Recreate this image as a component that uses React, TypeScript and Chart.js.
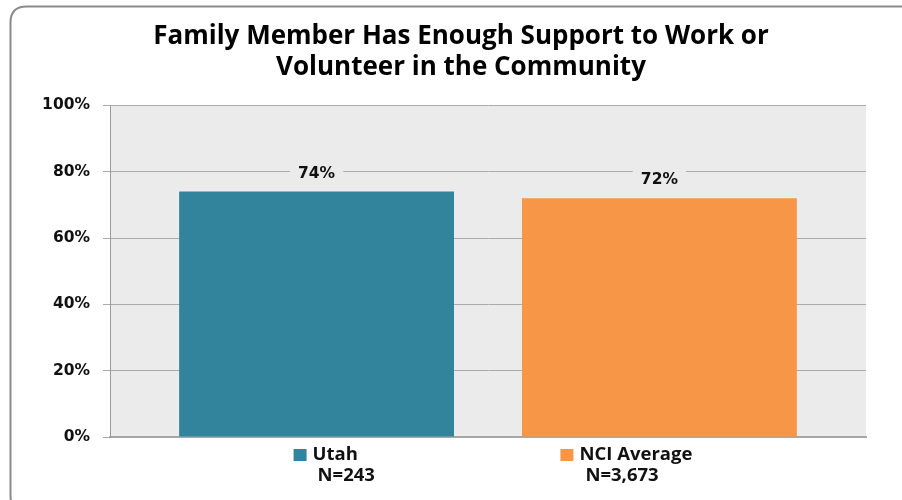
import React, { useEffect, useRef } from "react";
import { Chart, registerables } from "chart.js";

Chart.register(...registerables);

const titleLines = ["Family Member Has Enough Support to Work or", "Volunteer in the Community"];
const categories = ["Utah", "NCI Average"];
const sampleSizes = ["N=243", "N=3,673"];
const values = [74, 72];
const barColors = ["#31849B", "#F79646"];
const yMin = 0;
const yMax = 100;
const yStep = 20;

const PLOT_BG = "#EBEBEB";
const LABEL_FONT = "'DejaVu Sans', sans-serif";
const KEY_FONT = "'Open Sans', sans-serif";
// horizontal placement of each category key relative to its bar center
const keyOffsets = [-23, -99];
const nLineIndent = [5, 6];

const decorPlugin = {
  id: "decor",
  beforeDraw(chart: any) {
    const { ctx, chartArea } = chart;
    ctx.save();
    ctx.fillStyle = "#FFFFFF";
    ctx.fillRect(0, 0, chart.width, chart.height);
    ctx.fillStyle = PLOT_BG;
    ctx.fillRect(chartArea.left, chartArea.top, chartArea.right - chartArea.left, chartArea.bottom - chartArea.top);
    // rounded outer frame
    const x = 10.5, y = 6.5, w = 910, h = 505, r = 16;
    ctx.beginPath();
    ctx.moveTo(x + r, y);
    ctx.lineTo(x + w - r, y);
    ctx.quadraticCurveTo(x + w, y, x + w, y + r);
    ctx.lineTo(x + w, y + h - r);
    ctx.quadraticCurveTo(x + w, y + h, x + w - r, y + h);
    ctx.lineTo(x + r, y + h);
    ctx.quadraticCurveTo(x, y + h, x, y + h - r);
    ctx.lineTo(x, y + r);
    ctx.quadraticCurveTo(x, y, x + r, y);
    ctx.closePath();
    ctx.strokeStyle = "#8A8A8A";
    ctx.lineWidth = 2;
    ctx.stroke();
    ctx.restore();
  },
  afterDatasetsDraw(chart: any) {
    const { ctx } = chart;
    ctx.save();
    chart.data.datasets.forEach((ds: any, i: number) => {
      const meta = chart.getDatasetMeta(i);
      const bar = meta.data[0];
      if (!bar) return;
      const cx = bar.x;
      // value label with plot-coloured backing box
      const txt = ds.data[0] + "%";
      ctx.font = "bold 15.5px " + LABEL_FONT;
      const tw = ctx.measureText(txt).width;
      const ly = bar.y - 18;
      ctx.fillStyle = PLOT_BG;
      ctx.fillRect(cx - tw / 2 - 8, ly - 10, tw + 16, 20);
      ctx.fillStyle = "#111111";
      ctx.textAlign = "center";
      ctx.textBaseline = "middle";
      ctx.fillText(txt, cx, ly);

      // category key under the axis
      const kx = cx + keyOffsets[i];
      const baseY = chart.chartArea.bottom;
      ctx.fillStyle = barColors[i];
      ctx.fillRect(kx, baseY + 12, 13, 12);
      ctx.fillStyle = "#111111";
      ctx.textAlign = "left";
      ctx.font = "bold 18.5px " + KEY_FONT;
      ctx.fillText(categories[i], kx + 19, baseY + 18);
      ctx.fillText(sampleSizes[i], kx + 19 + nLineIndent[i], baseY + 39);
    });
    ctx.restore();
  },
};

export default function App() {
  const ref = useRef<HTMLCanvasElement | null>(null);
  useEffect(() => {
    if (!ref.current) return;
    const chart = new Chart(ref.current, {
      type: "bar",
      data: {
        labels: [""],
        datasets: categories.map((c, i) => ({
          label: c,
          data: [values[i]],
          backgroundColor: barColors[i],
          borderWidth: 0,
          categoryPercentage: 0.907,
          barPercentage: 0.8017,
        })),
      },
      options: {
        responsive: false,
        animation: false,
        layout: { padding: { left: 20, right: 0, top: 0, bottom: 0 } },
        plugins: {
          legend: { display: false },
          tooltip: { enabled: false },
          title: {
            display: true,
            text: titleLines,
            color: "#000000",
            font: { family: "'Open Sans', sans-serif", size: 26, weight: "bold", lineHeight: 1.2 },
            padding: { top: 21, bottom: 22 },
          },
        },
        scales: {
          x: {
            grid: { display: false },
            ticks: { display: false },
            border: { display: true, color: "#A6A6A6", width: 2 },
            afterFit(scale: any) {
              scale.height = 63;
            },
          },
          y: {
            min: yMin,
            max: yMax,
            ticks: {
              stepSize: yStep,
              callback: (v: any) => v + "%",
              color: "#111111",
              font: { family: LABEL_FONT, size: 15.5, weight: "bold" },
              padding: 13,
            },
            grid: { color: "#ABABAB", lineWidth: 1, tickLength: 7, drawTicks: true },
            border: { display: true, color: "#9A9A9A", width: 1 },
            afterFit(scale: any) {
              scale.width = 90;
            },
          },
          yRight: {
            position: "right",
            min: yMin,
            max: yMax,
            grid: { display: false },
            ticks: { display: false },
            border: { display: false },
            afterFit(scale: any) {
              scale.width = 36;
            },
          },
        },
      },
      plugins: [decorPlugin],
    });
    return () => chart.destroy();
  }, []);
  return (
    <div style={{ position: "absolute", left: 0, top: 0, width: 902, height: 500 }}>
      <canvas ref={ref} width={902} height={500} />
    </div>
  );
}
